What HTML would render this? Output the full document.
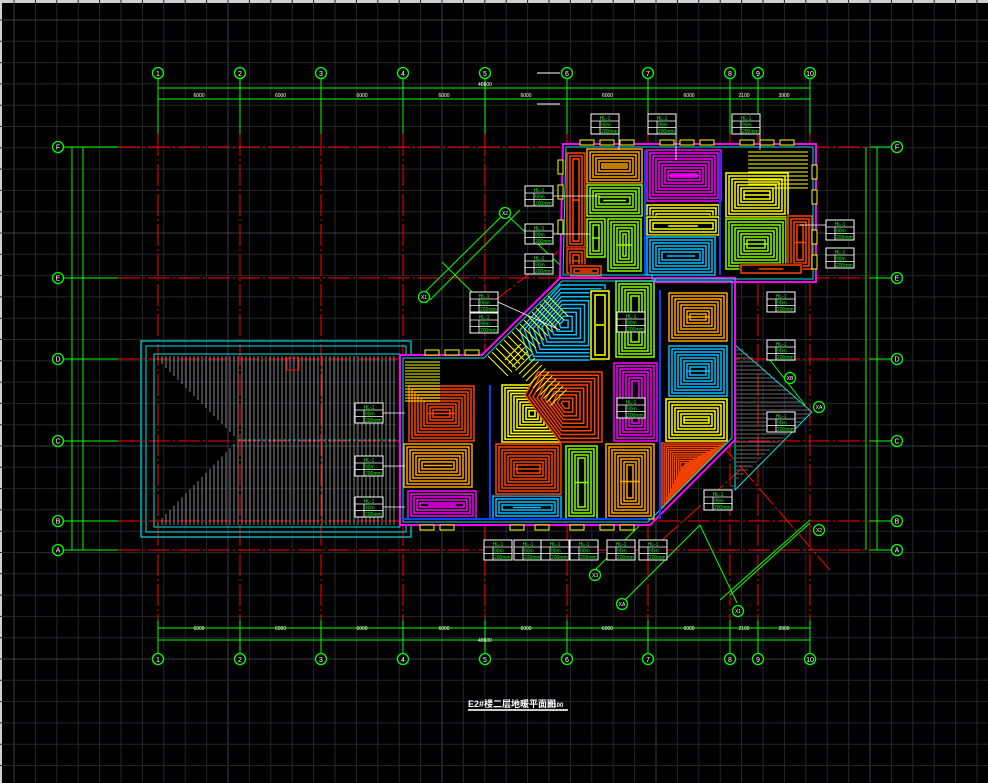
<!DOCTYPE html>
<html><head><meta charset="utf-8"><style>
html,body{margin:0;padding:0;background:#000;width:988px;height:783px;overflow:hidden}
svg{display:block}
text{font-family:"Liberation Sans","Noto Sans CJK SC",sans-serif}
</style></head><body>
<svg id="s" width="988" height="783" viewBox="0 0 988 783" xmlns="http://www.w3.org/2000/svg">
<rect width="988" height="783" fill="#000"/>
<rect x="0" y="0" width="988" height="3" fill="#d0d0d0"/>
<rect x="0" y="0" width="2" height="783" fill="#d0d0d0"/>
<g id="grid"></g>
<g id="axes"></g>
<g id="roof"></g>
<g id="rooms"></g>
<g id="over"></g>
<g id="labels"></g>
<text x="468" y="707" font-size="9" font-weight="bold" fill="#fff">E2#楼二层地暖平面图</text>
<text x="548" y="707" font-size="6" font-weight="bold" fill="#fff">1:100</text>
<rect x="468" y="709" width="100" height="2" fill="#ccc"/>
</svg>
<script>
(function(){
var NS="http://www.w3.org/2000/svg";
function el(p,t,a){var e=document.createElementNS(NS,t);for(var k in a)e.setAttribute(k,a[k]);document.getElementById(p).appendChild(e);return e;}
function ln(p,x1,y1,x2,y2,c,w,d){var a={x1:x1,y1:y1,x2:x2,y2:y2,stroke:c,"stroke-width":w||1};if(d)a["stroke-dasharray"]=d;return el(p,"line",a);}
function rc(p,x,y,w,h,c,sw,f){return el(p,"rect",{x:x,y:y,width:w,height:h,stroke:c,"stroke-width":sw||1,fill:f||"none"});}
function tx(p,x,y,s,c,t,anc){var a={x:x,y:y,"font-size":s,fill:c};if(anc)a["text-anchor"]=anc;var e=el(p,"text",a);e.textContent=t;return e;}
for(var i=0;i<48;i++){var x=14+i*21.4;ln("grid",x,0,x,783,i%10==0?"#3a3d48":"#23262e",1);}
for(var j=0;j<38;j++){var y=20+j*21.3;ln("grid",0,y,988,y,j%10==0?"#3a3d48":"#23262e",1);}
var cols=[158,240,321,403,485,567,648,730,758,810];
var rows=[[147,"F"],[278,"E"],[359,"D"],[441,"C"],[521,"B"],[550,"A"]];
var dash="22 3 2 3";
cols.forEach(function(x,i){
 ln("axes",x,134,x,620,"#ff0000",1,dash);
 ln("axes",x,78,x,134,"#00ff00",1);ln("axes",x,620,x,654,"#00ff00",1);
 el("axes","circle",{cx:x,cy:73,r:5.5,stroke:"#00ff00","stroke-width":1.3,fill:"#000"});
 el("axes","circle",{cx:x,cy:659,r:5.5,stroke:"#00ff00","stroke-width":1.3,fill:"#000"});
 tx("axes",x,76,7,"#fff",""+(i+1),"middle");tx("axes",x,662,7,"#fff",""+(i+1),"middle");
});
rows.forEach(function(r){var y=r[0];
 ln("axes",118,y,870,y,"#ff0000",1,dash);
 ln("axes",64,y,118,y,"#00ff00",1);ln("axes",870,y,892,y,"#00ff00",1);
 el("axes","circle",{cx:58,cy:y,r:5.5,stroke:"#00ff00","stroke-width":1.3,fill:"#000"});
 el("axes","circle",{cx:897,cy:y,r:5.5,stroke:"#00ff00","stroke-width":1.3,fill:"#000"});
 tx("axes",58,y+2.5,7,"#fff",r[1],"middle");tx("axes",897,y+2.5,7,"#fff",r[1],"middle");
});
[88,99,628,640].forEach(function(y){ln("axes",158,y,810,y,"#00ff00",1);});
[72,83,866,877].forEach(function(x){ln("axes",x,147,x,550,"#00ff00",1);});
var dl=["6000","6000","6000","6000","6000","6000","6000","2100","3900"];
for(var i=0;i<9;i++){var mx=(cols[i]+cols[i+1])/2;tx("axes",mx,97,5,"#fff",dl[i],"middle");tx("axes",mx,630,5,"#fff",dl[i],"middle");}
tx("axes",485,86,5,"#fff","48600","middle");tx("axes",485,642,5,"#fff","48600","middle");
ln("axes",537,73,560,73,"#fff",1);ln("axes",537,104,560,104,"#fff",1);
ln("axes",420,297,505,213,"#00ff00",1);ln("axes",430,300,520,210,"#00ff00",1);
ln("axes",505,213,560,265,"#00ff00",1);ln("axes",442,262,475,295,"#00ff00",1);
ln("axes",595,570,650,515,"#00ff00",1);ln("axes",622,603,700,525,"#00ff00",1);
ln("axes",700,525,737,603,"#00ff00",1);ln("axes",720,600,810,520,"#00ff00",1);ln("axes",730,595,810,523,"#00ff00",1);
ln("axes",770,360,805,405,"#00ff00",1);
[[505,213,"X2"],[424,297,"X1"],[595,575,"X3"],[622,604,"XA"],[738,611,"X1"],[819,530,"X2"],[790,378,"XB"],[819,407,"XA"]].forEach(function(c){
 el("axes","circle",{cx:c[0],cy:c[1],r:5.5,stroke:"#00ff00","stroke-width":1.3,fill:"#000"});tx("axes",c[0],c[1]+2,5,"#fff",c[2],"middle");});
ln("axes",560,520,720,360,"#ff0000",1,dash);ln("axes",700,420,830,570,"#ff0000",1,dash);
ln("axes",640,560,740,470,"#ff0000",1,dash);ln("axes",470,320,560,250,"#ff0000",1,dash);
rc("roof",141,341,270,196,"#00e0e0",1.2);rc("roof",146,346,260,186,"#00e0e0",1);rc("roof",154,354,246,173,"#00e0e0",1);
for(var x=158;x<398;x+=4){
 var yT=356,yB=525;
 if(x<238){var f=(x-155)/(238-155);var yt=357+f*83,yb=525-f*85;ln("roof",x,yT,x,yt,"#a8a8a8",0.8);ln("roof",x,yb,x,yB,"#a8a8a8",0.8);}
 else ln("roof",x,yT,x,yB,"#a8a8a8",0.8);
}
ln("roof",238,440,400,440,"#00e0e0",0.8,"3 2");
rc("roof",287,358,12,12,"#ff0000",1);
function coil(x,y,w,h,c,sp){sp=sp||3;rc("rooms",x,y,w,h,"#000",0,"#000");
 var k=0;while(w-2*k*sp>4&&h-2*k*sp>4){rc("rooms",x+k*sp+1,y+k*sp+1,w-2*k*sp-2,h-2*k*sp-2,c,1.5);k++;}
 var cy=y+h/2;ln("rooms",x+w*0.3,cy,x+w*0.7,cy,c,1.5);}
function tri(pts,c){var n=10,cx=0,cy=0;pts.forEach(function(p){cx+=p[0];cy+=p[1];});cx/=pts.length;cy/=pts.length;
 el("rooms","polygon",{points:pts.map(function(p){return p.join(",");}).join(" "),fill:"#000"});
 for(var k=0;k<n;k++){var s=1-k/n;el("rooms","polygon",{points:pts.map(function(p){return (cx+(p[0]-cx)*s)+","+(cy+(p[1]-cy)*s);}).join(" "),fill:"none",stroke:c,"stroke-width":1.5});}}
el("rooms","polygon",{points:"563,144 816,144 816,282 655,282 655,278 560,278",fill:"#000"});
el("rooms","polygon",{points:"400,355 482,355 560,278 735,278 735,440 650,525 400,525",fill:"#000"});
var O="#ffa500",R="#ff4400",G="#88ff00",M="#ff00ff",Y="#ffff00",C="#00bfff";
coil(566,152,20,96,R);coil(586,148,57,36,O);coil(586,184,57,33,G);
coil(566,248,20,26,R);coil(570,265,32,12,R);coil(607,218,35,54,G);coil(586,218,20,40,G);
coil(646,149,76,53,M);coil(646,204,74,27,Y);coil(646,216,74,20,Y);coil(646,236,70,40,C);
coil(725,172,64,46,Y);coil(725,218,62,52,G);coil(787,215,26,55,R);coil(740,264,62,10,R);
for(var y=152;y<192;y+=4)ln("rooms",748,y,808,y,Y,1);
ln("rooms",720,152,720,275,"#0044ff",2);ln("rooms",645,150,645,275,"#0044ff",2);
coil(408,385,67,57,R);coil(403,443,70,45,O);coil(407,490,70,30,M);
coil(492,495,70,25,C);coil(495,443,67,52,R);
tri([[502,385],[562,385],[562,442],[502,442]],Y);
coil(565,445,33,75,G);coil(605,443,50,77,O);
tri([[662,443],[725,443],[662,508]],R);
coil(613,362,45,80,M);coil(615,280,40,78,G);
coil(668,292,60,50,O);coil(668,345,60,52,C);coil(665,398,63,44,Y);
tri([[560,285],[605,285],[605,360],[530,360],[520,330]],C);
tri([[538,372],[602,372],[602,442],[560,442],[525,395]],R);
coil(590,290,20,70,Y,4);
for(var i=0;i<14;i++){ln("rooms",405,362+i*3,440,362+i*3,Y,1);}
for(var i=0;i<16;i++){var a=488+i*4,b=356-i*4;ln("rooms",a,b,a+20,b+20,Y,1);}
for(var i=0;i<14;i++){var a=505+i*3.5,b=360+i*3.5;ln("rooms",a,b,a+16,b-16,Y,1);}
el("rooms","polygon",{points:"735,345 812,412 735,490",fill:"none",stroke:"#00e0e0","stroke-width":1});
for(var y=350;y<488;y+=4){var d=Math.abs(y-412);ln("rooms",736,y,812-d*1.1,y,"#888",0.7);}
el("over","polygon",{points:"563,144 816,144 816,282 655,282 655,278 560,278",fill:"none",stroke:"#ff00ff","stroke-width":2});
el("over","polygon",{points:"400,355 482,355 560,278 735,278 735,440 650,525 400,525",fill:"none",stroke:"#ff00ff","stroke-width":2});
el("over","polygon",{points:"566,147 813,147 813,279 652,279 652,275 563,275",fill:"none",stroke:"#00e0e0","stroke-width":1});
el("over","polygon",{points:"403,358 484,358 562,281 732,281 732,438 648,522 403,522",fill:"none",stroke:"#00e0e0","stroke-width":1});
ln("over",403,519,648,519,"#0044ff",2);ln("over",490,385,490,519,"#0044ff",2);ln("over",660,290,660,519,"#0044ff",2);
[[580,140],[600,140],[620,140],[660,140],[680,140],[700,140],[740,140],[760,140],[780,140],[425,350],[445,350],[465,350],[420,525],[440,525],[510,525],[535,525],[570,525],[600,525],[620,525]].forEach(function(p){rc("over",p[0],p[1],14,5,Y,1,"#000");});
[[558,160],[558,185],[558,220],[812,165],[812,190],[812,230],[812,255]].forEach(function(p){rc("over",p[0],p[1],5,14,Y,1,"#000");});
function lab(x,y){rc("labels",x,y,28,20,"#fff",1,"#000");ln("labels",x,y+7,x+28,y+7,"#fff",0.8);ln("labels",x,y+13.5,x+28,y+13.5,"#fff",0.8);ln("labels",x+9,y+7,x+9,y+20,"#fff",0.8);
 tx("labels",x+14,y+6,5,"#00ff00","HL-1","middle");tx("labels",x+10,y+12.5,5,"#00ff00","90m");tx("labels",x+10,y+19,5,"#00ff00","200mm");}
[[591,114],[648,114],[732,114],[525,186],[525,224],[525,254],[470,292],[470,313],[617,312],[617,398],[767,292],[767,340],[767,412],[355,403],[355,456],[355,497],[826,220],[826,248],[704,490],[484,540],[514,540],[541,540],[570,540],[607,540],[639,540]].forEach(function(p){lab(p[0],p[1]);});
[[619,134,619,150],[676,134,676,160],[760,134,760,150],[553,196,600,196],[553,234,590,234],[498,302,560,330],[383,413,405,413],[383,466,405,466],[383,507,405,507],[800,225,826,225]].forEach(function(l){ln("labels",l[0],l[1],l[2],l[3],"#fff",0.8);});
})();
</script>
</body></html>
